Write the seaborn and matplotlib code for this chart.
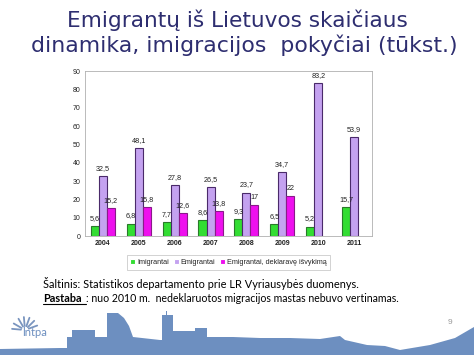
import pandas as pd
import matplotlib.pyplot as plt
import seaborn as sns
import numpy as np
from matplotlib.patches import Polygon

# --- DATA ---
years = ['2004', '2005', '2006', '2007', '2008', '2009', '2010', '2011']
imigrantai = [5.6, 6.8, 7.7, 8.6, 9.3, 6.5, 5.2, 15.7]
emigrantai = [32.5, 48.1, 27.8, 26.5, 23.7, 34.7, 83.2, 53.9]
deklaravusieji = [15.2, 15.8, 12.6, 13.8, 17, 22, np.nan, np.nan]

series_names = ['Imigrantai', 'Emigrantai', 'Emigrantai, deklaravę išvykimą']
fill_colors = ['#33dd33', '#c4a2f0', '#ee10ee']
edge_colors = ['#2a7a2a', '#4a2a6a', '#8a1a8a']

df = pd.DataFrame({
    'Metai': years * 3,
    'Serija': np.repeat(series_names, len(years)),
    'Reikšmė': imigrantai + emigrantai + deklaravusieji,
})

# --- STYLE ---
sns.set_theme(style="white")
plt.rcParams['font.family'] = ['Liberation Sans', 'DejaVu Sans']

fig = plt.figure(figsize=(4.74, 3.55), dpi=100)
fig.patch.set_facecolor('white')

# --- CHART ---
ax = fig.add_axes([0.179, 0.335, 0.606, 0.465])
sns.barplot(data=df, x='Metai', y='Reikšmė', hue='Serija', palette=fill_colors,
            width=0.67, ax=ax, linewidth=0.8, saturation=1)

def fmt(v):
    if np.isnan(v):
        return ''
    if float(v).is_integer():
        return f'{int(v)}'
    return f'{v:.1f}'.replace('.', ',')

for cont, ec in zip(ax.containers, edge_colors):
    for bar in cont:
        bar.set_edgecolor(ec)
    ax.bar_label(cont, labels=[fmt(b.get_height()) for b in cont],
                 padding=3, fontsize=5.2, color='#222222')

ax.set_ylim(0, 90)
ax.set_yticks(range(0, 91, 10))
ax.set_xlabel('')
ax.set_ylabel('')
ax.tick_params(axis='both', labelsize=5, length=0, pad=3, colors='#222222')
for lab in ax.get_xticklabels():
    lab.set_fontweight('bold')
for s in ['top', 'right', 'left', 'bottom']:
    ax.spines[s].set_color('#b0b0b0')
    ax.spines[s].set_linewidth(0.6)

leg = ax.legend(loc='upper center', bbox_to_anchor=(0.5, -0.095), ncol=3,
                fontsize=5.2, frameon=True, handlelength=0.7, handleheight=0.7,
                handletextpad=0.3, columnspacing=0.6, borderpad=0.5)
leg.get_frame().set_edgecolor('#b0b0b0')
leg.get_frame().set_linewidth(0.5)
leg.get_frame().set_boxstyle('square', pad=0)

# --- TITLE ---
fig.text(0.5, 0.943, 'Emigrantų iš Lietuvos skaičiaus', ha='center', va='center',
         fontsize=15.6, color='#2e2e70', family='DejaVu Sans')
fig.text(0.515, 0.873, 'dinamika, imigracijos  pokyčiai (tūkst.)', ha='center', va='center',
         fontsize=15.8, color='#2e2e70', family='DejaVu Sans')

# --- NOTES ---
fig.text(43 / 474, 1 - 284 / 355, 'Šaltinis: Statistikos departamento prie LR Vyriausybės duomenys.',
         ha='left', va='center', fontsize=7.9, family='Lato', color='black')
t = fig.text(43 / 474, 1 - 298 / 355, 'Pastaba', ha='left', va='center', fontsize=7.9,
             family='Lato', fontweight='bold', color='black')
fig.canvas.draw()
bb = t.get_window_extent()
fig.add_artist(plt.Line2D([bb.x0 / 474, (bb.x1 + 4) / 474],
                          [(bb.y0 - 0.5) / 355, (bb.y0 - 0.5) / 355],
                          color='black', lw=0.8))
fig.text((bb.x1 + 4) / 474, 1 - 298 / 355, ': nuo 2010 m.  nedeklaruotos migracijos mastas nebuvo vertinamas.',
         ha='left', va='center', fontsize=7.6, family='Lato', color='black')

# --- DECORATION: skyline & logo ---
sky = [(0, 355), (0, 349), (60, 348), (67, 348), (67, 337), (72, 337), (72, 330),
       (95, 330), (95, 337), (107, 337), (107, 313), (118, 313), (124, 318),
       (129, 326), (133, 337), (160, 340), (162, 340), (162, 315), (166, 315),
       (166, 311), (167, 311), (167, 315), (173, 315), (173, 331), (195, 331),
       (195, 328), (207, 328), (207, 337), (233, 337), (260, 338), (290, 338),
       (320, 339), (340, 336), (345, 340), (367, 345), (385, 346), (400, 350),
       (430, 345), (455, 338), (474, 327), (474, 355)]
sky_px = [(x / 474, 1 - y / 355) for x, y in sky]
fig.add_artist(Polygon(sky_px, closed=True, transform=fig.transFigure,
                       facecolor='#6d8fc0', edgecolor='none'))

for ang in [20, 45, 70, 95, 120, 150, 175]:
    r = np.deg2rad(ang)
    cx, cy = 25, 330
    x0, y0 = cx + 4 * np.cos(r), cy - 4 * np.sin(r)
    x1, y1 = cx + 13 * np.cos(r), cy - 13 * np.sin(r)
    fig.add_artist(plt.Line2D([x0 / 474, x1 / 474], [1 - y0 / 355, 1 - y1 / 355],
                              color='#7a95bf', lw=1.3, solid_capstyle='round'))
fig.text(22 / 474, 1 - 333 / 355, 'lntpa', ha='left', va='center', fontsize=8,
         color='#6d8fc0', family='Lato')
fig.text(450 / 474, 1 - 322 / 355, '9', ha='center', va='center', fontsize=6,
         color='#999999')

fig.savefig('out.png', dpi=100)
